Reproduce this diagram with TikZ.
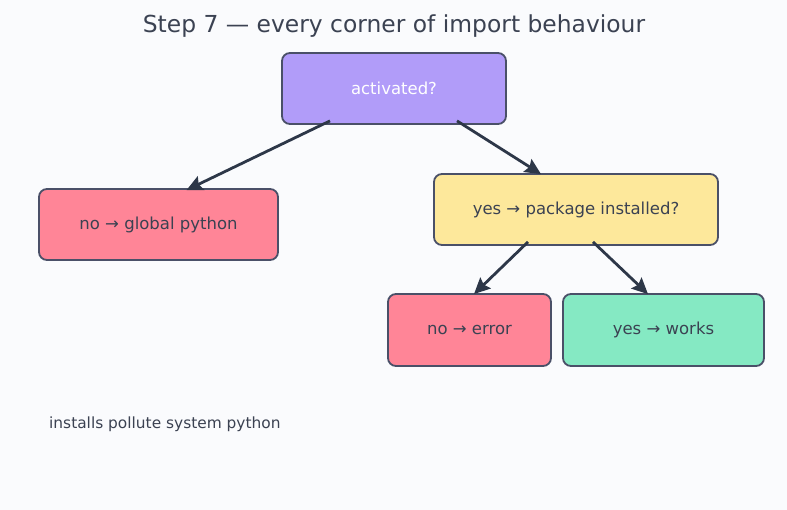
\documentclass[tikz,border=0pt]{standalone}
\usepackage{fontspec}
\setmainfont{DejaVu Sans}
\usetikzlibrary{arrows.meta}

\definecolor{bgcol}{HTML}{FAFBFD}
\definecolor{edgecol}{HTML}{4A5068}
\definecolor{arrcol}{HTML}{2D3748}
\definecolor{txtcol}{HTML}{3B4252}
\definecolor{purplecol}{HTML}{B19CF9}
\definecolor{pinkcol}{HTML}{FF8597}
\definecolor{yellowcol}{HTML}{FDE89B}
\definecolor{greencol}{HTML}{85E9C3}

\tikzset{
  box/.style={draw=edgecol, line width=1.8pt, rounded corners=8pt, font=\fontsize{16.5}{19}\selectfont, text=txtcol},
  flow/.style={-{Stealth[length=16pt, width=15pt, inset=2.5pt]}, draw=arrcol, line width=2.8pt}
}

\begin{document}
\begin{tikzpicture}[x=1pt, y=-1pt]

    % canvas
    \fill[bgcol] (0,0) rectangle (787,510);
    \useasboundingbox (0,0) rectangle (787,510);

    % title
    \node[text=txtcol, font=\fontsize{23.4}{27}\selectfont] (title) at (394,26.5) {Step 7 — every corner of import behaviour};

    % top question
    \node[box, fill=purplecol, text=white, minimum width=224pt, minimum height=71pt] (activated) at (394,88.5) {activated?};

    % no branch
    \node[box, fill=pinkcol, minimum width=239pt, minimum height=71pt] (globalpy) at (158.5,224.5) {no → global python};

    % yes branch
    \node[box, fill=yellowcol, minimum width=284pt, minimum height=71pt] (installed) at (576,209.5) {yes → package installed?};

    % leaves
    \node[box, fill=pinkcol, minimum width=163pt, minimum height=72pt] (error) at (469.5,330) {no → error};
    \node[box, fill=greencol, minimum width=201pt, minimum height=72pt] (works) at (663.5,330) {yes → works};

    % note
    \node[anchor=west, inner sep=0pt, text=txtcol, font=\fontsize{15.4}{18}\selectfont] (note) at (49,424) {installs pollute system python};

    % arrows
    \draw[flow] ([xshift=-64pt, yshift=4pt]activated.south) -- ([xshift=28pt, yshift=-2pt]globalpy.north);
    \draw[flow] ([xshift=63pt, yshift=4pt]activated.south) -- ([xshift=-35pt, yshift=-1pt]installed.north);
    \draw[flow] ([xshift=-48pt, yshift=4pt]installed.south) -- ([xshift=4.5pt, yshift=-1pt]error.north);
    \draw[flow] ([xshift=17pt, yshift=4pt]installed.south) -- ([xshift=-15.5pt, yshift=-1pt]works.north);

\end{tikzpicture}
\end{document}
